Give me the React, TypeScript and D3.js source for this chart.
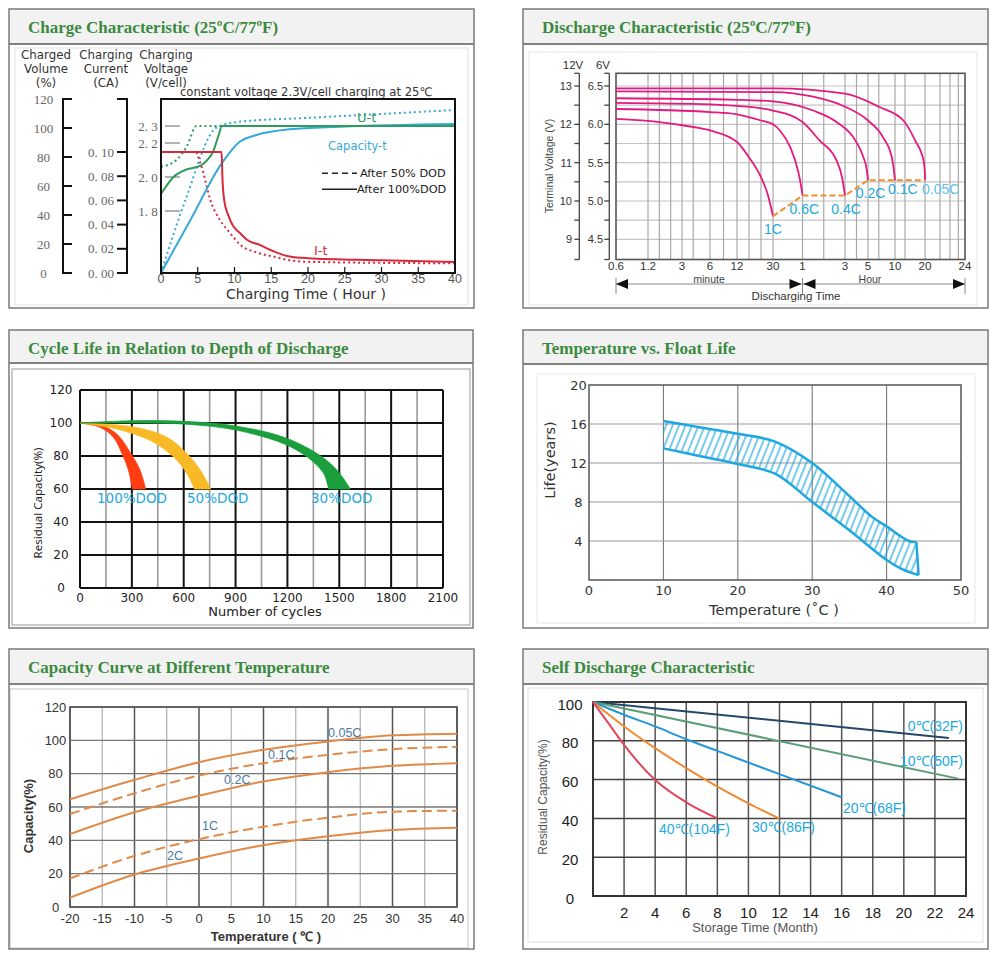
import * as d3 from "d3";

type Pt = [number, number];

// ---------- Charge characteristic ----------
const chargeHourTicks = [0, 5, 10, 15, 20, 25, 30, 35, 40];
const volumeTicks = [0, 20, 40, 60, 80, 100, 120];
const currentTicks = [0, 0.02, 0.04, 0.06, 0.08, 0.1];
const voltageTicks = [1.8, 2.0, 2.2, 2.3];
const capacityFull: Pt[] = [[0, 0], [4, 36.6], [8.26, 75.6], [10.7, 90.5], [13, 95.2], [17.5, 99.1], [24.4, 100.9], [40, 102.8]];
const capacityHalf: Pt[] = [[0, 0], [3.3, 50], [7.6, 100.5], [10.7, 104.3], [20, 107], [30, 109.7], [40, 112.4]];
const voltageFull: Pt[] = [[0, 1.9], [1.7, 2.0], [3.5, 2.045], [5.3, 2.065], [6.3, 2.1], [7.1, 2.15], [7.8, 2.24], [8.3, 2.3], [40, 2.3]];
const voltageHalf: Pt[] = [[0, 2.06], [2.1, 2.1], [3.5, 2.18], [4.85, 2.3], [8.3, 2.3]];
const currentFull: Pt[] = [[0, 0.1], [8.25, 0.1], [8.35, 0.08], [8.6, 0.06], [9.2, 0.047], [9.8, 0.039], [10.75, 0.033], [11.7, 0.0275], [13.5, 0.023], [15.3, 0.018], [17.5, 0.0136], [20, 0.0122], [30, 0.0105], [40, 0.009]];
const currentHalf: Pt[] = [[4.85, 0.1], [5.75, 0.083], [6.67, 0.061], [8, 0.044], [9.4, 0.033], [10.75, 0.0235], [13, 0.017], [15.3, 0.0136], [17.5, 0.0105], [20, 0.0092], [40, 0.008]];

// ---------- Discharge characteristic ----------
const dischargeTickMinutes = [0.6, 1.2, 3, 6, 12, 30, 60, 180, 300, 600, 1200, 1440];
const dischargeTickLabels = ["0.6", "1.2", "3", "6", "12", "30", "1", "3", "5", "10", "20", "24"];
const dischargeGridMinutes = [1.2, 1.8, 2.4, 3, 4.2, 6, 9, 12, 18, 24, 30, 60, 120, 180, 240, 300, 420, 600, 800, 1200, 1290, 1350, 1400];
const sixVoltTicks = [4.5, 5.0, 5.5, 6.0, 6.5];
const twelveVoltTicks = [9, 10, 11, 12, 13];
const rateLabels = ["1C", "0.6C", "0.4C", "0.2C", "0.1C", "0.05C"];
const rate1C: Pt[] = [[0.6, 6.07], [1.8, 6.03], [4.2, 5.965], [6, 5.92], [12, 5.77], [18, 5.57], [24, 5.31], [27.2, 5.1], [30, 4.8]];
const rate06C: Pt[] = [[0.6, 6.2], [6, 6.16], [12, 6.13], [24, 6.05], [30, 6.0], [37, 5.92], [47.6, 5.7], [55.7, 5.38], [58.5, 5.2], [60, 5.07]];
const rate04C: Pt[] = [[0.6, 6.28], [6, 6.26], [12, 6.24], [30, 6.18], [60, 6.03], [108, 5.79], [156, 5.53], [172, 5.3], [180, 5.07]];
const rate02C: Pt[] = [[0.6, 6.34], [12, 6.32], [30, 6.3], [90, 6.18], [156, 6.03], [234, 5.79], [276, 5.57], [294, 5.4], [300, 5.27]];
const rate01C: Pt[] = [[0.6, 6.43], [30, 6.42], [90, 6.36], [180, 6.23], [300, 6.05], [468, 5.83], [564, 5.57], [588, 5.4], [600, 5.27]];
const rate005C: Pt[] = [[0.6, 6.47], [30, 6.47], [180, 6.4], [420, 6.23], [768, 6.05], [1002, 5.79], [1170, 5.53], [1194, 5.4], [1200, 5.27]];
const endVoltage: Pt[] = [[30, 4.8], [60, 5.07], [180, 5.07], [300, 5.27], [1200, 5.27]];

// ---------- Cycle life ----------
const cycleTicks = [0, 300, 600, 900, 1200, 1500, 1800, 2100];
const cycleResidualTicks = [0, 20, 40, 60, 80, 100, 120];
const dodLabels = ["100%DOD", "50%DOD", "30%DOD"];
const dod100Outer: Pt[] = [[0, 100], [116, 98.6], [212, 93.4], [303, 80], [347, 71.5], [380, 60]];
const dod100Inner: Pt[] = [[0, 100], [116, 97.4], [193, 91.4], [251, 79.5], [280, 71.5], [303, 60]];
const dod50Outer: Pt[] = [[0, 100], [309, 97.6], [502, 91.4], [618, 81.5], [695, 71.5], [757, 60]];
const dod50Inner: Pt[] = [[0, 100], [212, 96.4], [405, 89.5], [541, 79.5], [618, 69.5], [662, 60]];
const dod30Outer: Pt[] = [[0, 100], [309, 101.4], [598, 101], [888, 98.4], [1178, 91.4], [1371, 81.5], [1486, 71.5], [1564, 60]];
const dod30Inner: Pt[] = [[0, 100], [309, 100], [598, 99.4], [888, 96], [1178, 87.5], [1313, 79.5], [1409, 69.5], [1438, 60]];

// ---------- Float life ----------
const floatTempTicks = [0, 10, 20, 30, 40, 50];
const floatLifeTicks = [4, 8, 12, 16, 20];
const floatUpper: Pt[] = [[10, 16.3], [15, 15.65], [20, 15.0], [25, 14.2], [30, 12.0], [35, 8.6], [38, 6.5], [40, 5.5], [43, 4.0], [44, 3.9]];
const floatLower: Pt[] = [[10, 13.5], [15, 12.7], [20, 11.9], [25, 10.9], [30, 8.0], [35, 5.1], [40, 2.05], [42, 1.15], [44.3, 0.5]];

// ---------- Capacity vs temperature ----------
const capTempTicks = [-20, -15, -10, -5, 0, 5, 10, 15, 20, 25, 30, 35, 40];
const capPctTicks = [0, 20, 40, 60, 80, 100, 120];
const capTemps = [-20, -10, 0, 10, 20, 30, 40];
const capRates = ["0.05C", "0.1C", "0.2C", "1C", "2C"];
const cap005C = [64.6, 76.3, 86.9, 94.3, 99.3, 103, 104];
const cap01C = [55.8, 68.2, 78.9, 86.3, 91.3, 94.7, 96.1];
const cap02C = [43.7, 56.8, 66.8, 75.3, 80.9, 84.7, 86.3];
const cap1C = [17.1, 30.7, 40.7, 48.2, 53.6, 57.2, 57.8];
const cap2C = [5.6, 19.5, 29.1, 37.1, 42.5, 46.2, 47.6];

// ---------- Self discharge ----------
const storageTicks = [2, 4, 6, 8, 10, 12, 14, 16, 18, 20, 22, 24];
const selfResidualTicks = [0, 20, 40, 60, 80, 100];
const selfLabels = ["0℃(32F)", "10℃(50F)", "20℃(68F)", "30℃(86F)", "40℃(104F)"];
const self0: Pt[] = [[0, 100], [22.9, 81.5]];
const self10: Pt[] = [[0, 100], [23.5, 60.5]];
const self20: Pt[] = [[0, 100], [2, 93.4], [4, 87.4], [6, 80.8], [8, 74.8], [12, 62.8], [16, 50.9]];
const self30: Pt[] = [[0, 100], [2, 87.4], [4, 76.2], [6, 65.9], [8, 56.4], [10, 47.8], [12, 39.9]];
const self40: Pt[] = [[0, 100], [1, 89], [2, 77.9], [4, 59.8], [6, 48.3], [8, 40]];

// ---------- layout ----------
const SERIF = "'Liberation Serif', 'Times New Roman', serif";
const SANS = "'Liberation Sans', Arial, sans-serif";
const DEJAVU = "'DejaVu Sans', Verdana, sans-serif";
const TITLE_GREEN = "#3b8a3f";
const CYAN = "#22a8e0";

const DIS_TICK_X = [616, 648, 682, 710, 737, 773, 802.5, 845, 868, 895, 925, 965];

type PanelProps = { x: number; y: number; w: number; h: number; head: number; title: string; inner: [number, number, number, number]; innerStroke: string };

function Panel({ x, y, w, h, head, title, inner, innerStroke }: PanelProps) {
	return (
		<g>
			<rect x={x} y={y} width={w} height={h} fill="#fff" />
			<rect x={x} y={y} width={w} height={head} fill="#f2f2f2" />
			<rect x={inner[0]} y={inner[1]} width={inner[2] - inner[0]} height={inner[3] - inner[1]} fill="#fff" stroke={innerStroke} strokeWidth={1.2} />
			<line x1={x} x2={x + w} y1={y + head} y2={y + head} stroke="#5a5a5a" strokeWidth={1.5} />
			<rect x={x} y={y} width={w} height={h} fill="none" stroke="#7a7a7a" strokeWidth={1.5} />
			<text x={x + 19} y={y + 24} fontFamily={SERIF} fontWeight="bold" fontSize={17} fill={TITLE_GREEN}>
				{title}
			</text>
		</g>
	);
}

function ChargeChart() {
	const x = d3.scaleLinear().domain([0, 40]).range([161, 455]);
	const yVol = d3.scaleLinear().domain([0, 120]).range([273, 99]);
	const yCur = d3.scaleLinear().domain([0, 0.1]).range([273, 152]);
	const yV = d3.scaleLinear().domain([1.8, 2.3]).range([211, 126]);
	const mk = (sy: d3.ScaleLinear<number, number>) =>
		d3.line<Pt>().x((d) => x(d[0])).y((d) => sy(d[1])).curve(d3.curveMonotoneX);
	const top = yVol(120);
	const bottom = yVol(0);
	const heads = [
		{ cx: 46, lines: ["Charged", "Volume", "(%)"] },
		{ cx: 106, lines: ["Charging", "Current", "(CA)"] },
		{ cx: 166, lines: ["Charging", "Voltage", "(V/cell)"] },
	];
	const headY = [58.5, 73, 86.5];
	const red = "#d9283c";
	const green = "#2f9c5c";
	const blue = "#35a9d9";

	return (
		<g>
			{heads.map((hd, i) => (
				<g key={i}>
					{hd.lines.map((t, j) => (
						<text key={j} x={hd.cx} y={headY[j]} textAnchor="middle" fontFamily={DEJAVU} fontSize={11.8} fill="#333">
							{t}
						</text>
					))}
				</g>
			))}
			{/* charged volume axis */}
			<line x1={63} x2={63} y1={top} y2={bottom} stroke="#111" strokeWidth={2} />
			{volumeTicks.map((v) => (
				<g key={v}>
					<line x1={62} x2={72} y1={yVol(v)} y2={yVol(v)} stroke="#111" strokeWidth={2} />
					<text x={43.5} y={yVol(v)} textAnchor="middle" dominantBaseline="central" fontFamily={SERIF} fontSize={13} fill="#666">
						{v}
					</text>
				</g>
			))}
			{/* current axis */}
			<line x1={127} x2={127} y1={top} y2={bottom} stroke="#111" strokeWidth={2} />
			<line x1={117} x2={128} y1={top} y2={top} stroke="#111" strokeWidth={2} />
			{currentTicks.map((v) => (
				<g key={v}>
					<line x1={117} x2={128} y1={yCur(v)} y2={yCur(v)} stroke="#111" strokeWidth={2} />
					<text x={101} y={yCur(v)} textAnchor="middle" dominantBaseline="central" fontFamily={SERIF} fontSize={13} fill="#666">
						{v.toFixed(2).replace(".", ". ")}
					</text>
				</g>
			))}
			{/* voltage ticks */}
			{voltageTicks.map((v) => (
				<g key={v}>
					<line x1={165} x2={180} y1={yV(v)} y2={yV(v)} stroke="#999" strokeWidth={1.5} />
					<text x={148} y={yV(v)} textAnchor="middle" dominantBaseline="central" fontFamily={SERIF} fontSize={13} fill="#666">
						{v.toFixed(1).replace(".", ". ")}
					</text>
				</g>
			))}
			<text x={180} y={96} fontFamily={DEJAVU} fontSize={11.6} fill="#333">
				constant voltage 2.3V/cell charging at 25℃
			</text>
			{/* curves */}
			<path d={mk(yVol)(capacityHalf)!} fill="none" stroke={blue} strokeWidth={2} strokeDasharray="2 3" />
			<path d={mk(yV)(voltageHalf)!} fill="none" stroke={green} strokeWidth={2} strokeDasharray="2 3" />
			<path d={mk(yCur)(currentHalf)!} fill="none" stroke={red} strokeWidth={2} strokeDasharray="2 3" />
			<path d={mk(yVol)(capacityFull)!} fill="none" stroke={blue} strokeWidth={2} />
			<path d={mk(yV)(voltageFull)!} fill="none" stroke={green} strokeWidth={2} />
			<path d={mk(yCur)(currentFull)!} fill="none" stroke={red} strokeWidth={2} />
			{/* frame */}
			<rect x={x(0)} y={top} width={x(40) - x(0)} height={bottom - top} fill="none" stroke="#111" strokeWidth={2} />
			{chargeHourTicks.map((h) => (
				<g key={h}>
					{h > 0 && h < 40 && <line x1={x(h)} x2={x(h)} y1={bottom} y2={bottom - 6} stroke="#111" strokeWidth={1.2} />}
					<text x={x(h)} y={278.5} textAnchor="middle" dominantBaseline="central" fontFamily={SANS} fontSize={12.5} fill="#555">
						{h}
					</text>
				</g>
			))}
			<text x={306} y={298.5} textAnchor="middle" fontFamily={DEJAVU} fontSize={14} fill="#333">
				Charging Time ( Hour  )
			</text>
			{/* labels & legend */}
			<text x={357} y={122} fontFamily={DEJAVU} fontSize={13} fill={green}>U-t</text>
			<text x={328} y={150} fontFamily={DEJAVU} fontSize={11.5} fill={blue}>Capacity-t</text>
			<text x={314} y={254.5} fontFamily={DEJAVU} fontSize={13} fill={red}>I-t</text>
			<line x1={322} x2={357} y1={173.3} y2={173.3} stroke="#222" strokeWidth={1.5} strokeDasharray="6 4" />
			<text x={360} y={177} fontFamily={DEJAVU} fontSize={11.3} fill="#222">After 50% DOD</text>
			<line x1={322} x2={357} y1={189.3} y2={189.3} stroke="#222" strokeWidth={1.5} />
			<text x={357} y={193} fontFamily={DEJAVU} fontSize={11.3} fill="#222">After 100%DOD</text>
		</g>
	);
}

function DischargeChart() {
	const x = d3.scaleLinear().domain(dischargeTickMinutes).range(DIS_TICK_X);
	const y = d3.scaleLinear().domain([4.5, 6.5]).range([239.3, 86]);
	const top = 73.3;
	const bottom = 259.5;
	const left = x(0.6);
	const right = x(1440);
	const line = d3.line<Pt>().x((d) => x(d[0])).y((d) => y(d[1])).curve(d3.curveMonotoneX);
	const hLines = d3.range(4.5, 6.51, 0.25);
	const curves = [rate1C, rate06C, rate04C, rate02C, rate01C, rate005C];
	const labelPos: [number, number, string][] = [[0, 13, "middle"], [-13, 13, "start"], [1, 13, "middle"], [2.5, 13, "middle"], [-7, 8.5, "start"], [-3, 8.5, "start"]];
	const arrowY = 284;
	const mid = x(60);

	return (
		<g>
			{hLines.map((v) => (
				<line key={v} x1={left} x2={right} y1={y(v)} y2={y(v)} stroke="#c4c4c4" strokeWidth={1.2} />
			))}
			{dischargeGridMinutes.map((m) => (
				<line key={m} x1={x(m)} x2={x(m)} y1={top} y2={bottom} stroke="#a8a8a8" strokeWidth={1.2} />
			))}
			<rect x={left} y={top} width={right - left} height={bottom - top} fill="none" stroke="#555" strokeWidth={1.6} />
			{curves.map((c, i) => (
				<path key={i} d={line(c)!} fill="none" stroke="#e5197f" strokeWidth={1.8} />
			))}
			<path d={d3.line<Pt>().x((d) => x(d[0])).y((d) => y(d[1]))(endVoltage)!} fill="none" stroke="#f0902a" strokeWidth={2} strokeDasharray="6 3" />
			{curves.map((c, i) => {
				const end = c[c.length - 1];
				const [dx, dy, anchor] = labelPos[i];
				return (
					<text key={i} x={x(end[0]) + dx} y={y(end[1]) + dy} textAnchor={anchor as any} dominantBaseline="central" fontFamily={SANS} fontSize={14} fill={i === 5 ? "#62c0ea" : CYAN}>
						{rateLabels[i]}
					</text>
				);
			})}
			{/* double voltage axis */}
			{[579.3, 609.3].map((ax) => (
				<g key={ax}>
					<line x1={ax} x2={ax} y1={top} y2={bottom} stroke="#444" strokeWidth={1.3} />
					<line x1={ax - 5} x2={ax} y1={top} y2={top} stroke="#444" strokeWidth={1.3} />
					<line x1={ax - 5} x2={ax} y1={bottom} y2={bottom} stroke="#444" strokeWidth={1.3} />
					{hLines.map((v) => (
						<line key={v} x1={ax - 5} x2={ax} y1={y(v)} y2={y(v)} stroke="#444" strokeWidth={1.3} />
					))}
				</g>
			))}
			{twelveVoltTicks.map((v) => (
				<text key={v} x={572} y={y(v / 2)} textAnchor="end" dominantBaseline="central" fontFamily={SANS} fontSize={11} fill="#333">
					{v}
				</text>
			))}
			{sixVoltTicks.map((v) => (
				<text key={v} x={603} y={y(v)} textAnchor="end" dominantBaseline="central" fontFamily={SANS} fontSize={11} fill="#333">
					{v.toFixed(1)}
				</text>
			))}
			<text x={573} y={69} textAnchor="middle" fontFamily={SANS} fontSize={11.5} fill="#333">12V</text>
			<text x={603} y={69} textAnchor="middle" fontFamily={SANS} fontSize={11.5} fill="#333">6V</text>
			<text transform="translate(553,166) rotate(-90)" textAnchor="middle" fontFamily={SANS} fontSize={10.5} fill="#444">
				Terminal Voltage (V)
			</text>
			{dischargeTickMinutes.map((m, i) => (
				<text key={m} x={x(m)} y={265.5} textAnchor="middle" dominantBaseline="central" fontFamily={SANS} fontSize={11.5} fill="#333">
					{dischargeTickLabels[i]}
				</text>
			))}
			<text x={709} y={282.5} textAnchor="middle" fontFamily={SANS} fontSize={10.5} fill="#444">minute</text>
			<text x={870} y={282.5} textAnchor="middle" fontFamily={SANS} fontSize={10.5} fill="#444">Hour</text>
			{/* arrows */}
			<line x1={left} x2={right} y1={arrowY} y2={arrowY} stroke="#888" strokeWidth={1} />
			{[left, mid, right].map((ax) => (
				<line key={ax} x1={ax} x2={ax} y1={278} y2={294} stroke="#888" strokeWidth={1} />
			))}
			<path d={`M${left},${arrowY}l12,-5v10z`} fill="#111" />
			<path d={`M${mid - 1},${arrowY}l-12,-5v10z`} fill="#111" />
			<path d={`M${mid + 1},${arrowY}l12,-5v10z`} fill="#111" />
			<path d={`M${right},${arrowY}l-12,-5v10z`} fill="#111" />
			<text x={796} y={299.5} textAnchor="middle" fontFamily={SANS} fontSize={11.5} fill="#333">Discharging Time</text>
		</g>
	);
}

function CycleChart() {
	const x = d3.scaleLinear().domain([0, 2100]).range([80, 443]);
	const y = d3.scaleLinear().domain([0, 120]).range([588, 390]);
	const line = d3.line<Pt>().x((d) => x(d[0])).y((d) => y(d[1])).curve(d3.curveCatmullRom.alpha(0.5));
	const band = (outer: Pt[], inner: Pt[]) => line(outer)! + "L" + line([...inner].reverse())!.slice(1) + "Z";
	const minor = d3.range(150, 2100, 300);
	const labelX = [97, 187, 311];
	const fills = ["#ff3d12", "#f7b925", "#1a9f3c"];
	const bands = [band(dod100Outer, dod100Inner), band(dod50Outer, dod50Inner), band(dod30Outer, dod30Inner)];

	return (
		<g>
			{minor.map((c) => (
				<line key={c} x1={x(c)} x2={x(c)} y1={y(120)} y2={y(0)} stroke="#9a9a9a" strokeWidth={1.6} />
			))}
			{cycleTicks.map((c) => (
				<line key={c} x1={x(c)} x2={x(c)} y1={y(120)} y2={y(0)} stroke="#111" strokeWidth={2} />
			))}
			{cycleResidualTicks.map((v) => (
				<line key={v} x1={x(0)} x2={x(2100)} y1={y(v)} y2={y(v)} stroke="#111" strokeWidth={2} />
			))}
			{bands.map((d, i) => (
				<path key={i} d={d} fill={fills[i]} stroke={fills[i]} strokeWidth={0.8} />
			))}
			{dodLabels.map((t, i) => (
				<text key={t} x={labelX[i]} y={503} fontFamily={DEJAVU} fontSize={13.5} fill={CYAN}>
					{t}
				</text>
			))}
			{cycleResidualTicks.map((v) => (
				<text key={v} x={61} y={y(v)} textAnchor="middle" dominantBaseline="central" fontFamily={DEJAVU} fontSize={12} fill="#222">
					{v}
				</text>
			))}
			{cycleTicks.map((c) => (
				<text key={c} x={x(c)} y={598} textAnchor="middle" dominantBaseline="central" fontFamily={DEJAVU} fontSize={12} fill="#222">
					{c}
				</text>
			))}
			<text x={265} y={616} textAnchor="middle" fontFamily={DEJAVU} fontSize={13} fill="#222">Number of cycles</text>
			<text transform="translate(41.5,503) rotate(-90)" textAnchor="middle" fontFamily="'Noto Sans', sans-serif" fontSize={11.5} fill="#222">
				Residual Capacity(%)
			</text>
		</g>
	);
}

function FloatChart() {
	const x = d3.scaleLinear().domain([0, 50]).range([589, 961]);
	const y = d3.scaleLinear().domain([0, 20]).range([580, 385]);
	const line = d3.line<Pt>().x((d) => x(d[0])).y((d) => y(d[1])).curve(d3.curveCatmullRom.alpha(0.5));
	const up = floatUpper[floatUpper.length - 1];
	const lo = floatLower[floatLower.length - 1];
	const area = line(floatUpper)! + `L${x(lo[0])},${y(lo[1])}` + line([...floatLower].reverse())!.slice(1).replace(/^[^C]*/, (s) => "L" + s) + "Z";
	const blue = "#1ea7e1";

	return (
		<g>
			{floatTempTicks.slice(1, -1).map((t) => (
				<line key={t} x1={x(t)} x2={x(t)} y1={y(20)} y2={y(0)} stroke="#777" strokeWidth={1.1} />
			))}
			{floatLifeTicks.slice(0, -1).map((v) => (
				<line key={v} x1={x(0)} x2={x(50)} y1={y(v)} y2={y(v)} stroke="#999" strokeWidth={1.1} />
			))}
			<rect x={x(0)} y={y(20)} width={x(50) - x(0)} height={y(0) - y(20)} fill="none" stroke="#555" strokeWidth={1.5} />
			<path d={area} fill="url(#hatch)" stroke="none" />
			<path d={line(floatUpper)!} fill="none" stroke={blue} strokeWidth={2.5} />
			<path d={line(floatLower)!} fill="none" stroke={blue} strokeWidth={2.5} />
			<line x1={x(up[0])} y1={y(up[1])} x2={x(lo[0])} y2={y(lo[1])} stroke={blue} strokeWidth={2.5} />
			{floatLifeTicks.map((v) => (
				<text key={v} x={578.5} y={y(v)} textAnchor="middle" dominantBaseline="central" fontFamily={DEJAVU} fontSize={13} fill="#333">
					{v}
				</text>
			))}
			{floatTempTicks.map((t) => (
				<text key={t} x={x(t)} y={590} textAnchor="middle" dominantBaseline="central" fontFamily={DEJAVU} fontSize={13} fill="#333">
					{t}
				</text>
			))}
			<text x={774} y={615} textAnchor="middle" fontFamily={DEJAVU} fontSize={14.5} fill="#333">Temperature (˚C )</text>
			<text transform="translate(555,460) rotate(-90)" textAnchor="middle" fontFamily={DEJAVU} fontSize={14.5} fill="#333">
				Life(years)
			</text>
		</g>
	);
}

function CapacityChart() {
	const x = d3.scaleLinear().domain([-20, 40]).range([70, 457]);
	const y = d3.scaleLinear().domain([0, 120]).range([907, 707]);
	const line = d3.line<number>().x((_, i) => x(capTemps[i])).y((d) => y(d)).curve(d3.curveMonotoneX);
	const series = [cap005C, cap01C, cap02C, cap1C, cap2C];
	const dashed = [false, true, false, true, false];
	const labelXY: Pt[] = [[328, 733], [268, 755], [224, 780], [202, 826], [167, 856]];

	return (
		<g>
			{capTempTicks.map((t) => (
				<line key={t} x1={x(t)} x2={x(t)} y1={y(120)} y2={y(0)} stroke={t % 10 === 0 ? "#555" : "#b0b0b0"} strokeWidth={t % 10 === 0 ? 1.5 : 1.2} />
			))}
			{capPctTicks.map((v) => (
				<line key={v} x1={x(-20)} x2={x(40)} y1={y(v)} y2={y(v)} stroke="#777" strokeWidth={1.3} />
			))}
			<rect x={x(-20)} y={y(120)} width={x(40) - x(-20)} height={y(0) - y(120)} fill="none" stroke="#555" strokeWidth={1.6} />
			{series.map((s, i) => (
				<path key={i} d={line(s)!} fill="none" stroke="#e08a4a" strokeWidth={2} strokeDasharray={dashed[i] ? "10 5" : undefined} />
			))}
			{capRates.map((t, i) => (
				<text key={t} x={labelXY[i][0]} y={labelXY[i][1]} dominantBaseline="central" fontFamily={SANS} fontSize={12.5} fill="#4a78a8">
					{t}
				</text>
			))}
			{capPctTicks.map((v) => (
				<text key={v} x={55.5} y={y(v)} textAnchor="middle" dominantBaseline="central" fontFamily={SANS} fontSize={13} fill="#333">
					{v}
				</text>
			))}
			{capTempTicks.map((t) => (
				<text key={t} x={x(t)} y={918} textAnchor="middle" dominantBaseline="central" fontFamily={SANS} fontSize={13} fill="#333">
					{t}
				</text>
			))}
			<text x={266} y={941} textAnchor="middle" fontFamily={SANS} fontWeight="bold" fontSize={13} fill="#333">Temperature ( ℃ )</text>
			<text transform="translate(33,816) rotate(-90)" textAnchor="middle" fontFamily={SANS} fontWeight="bold" fontSize={13} fill="#333">
				Capacity(%)
			</text>
		</g>
	);
}

function SelfDischargeChart() {
	const x = d3.scaleLinear().domain([0, 24]).range([593, 966]);
	const y = d3.scaleLinear().domain([0, 100]).range([896, 702]);
	const line = d3.line<Pt>().x((d) => x(d[0])).y((d) => y(d[1])).curve(d3.curveMonotoneX);
	const series = [self0, self10, self20, self30, self40];
	const colors = ["#24476b", "#5c9e78", "#2596d5", "#f08a30", "#e2455a"];
	const labelXY: [number, number, string][] = [[963, 726, "end"], [963, 761, "end"], [843, 808, "start"], [752, 827, "start"], [659, 828.5, "start"]];

	return (
		<g>
			{storageTicks.slice(0, -1).map((t) => (
				<line key={t} x1={x(t)} x2={x(t)} y1={y(100)} y2={y(0)} stroke="#555" strokeWidth={1.5} />
			))}
			{selfResidualTicks.slice(1, -1).map((v) => (
				<line key={v} x1={x(0)} x2={x(24)} y1={y(v)} y2={y(v)} stroke="#444" strokeWidth={1.5} />
			))}
			<rect x={x(0)} y={y(100)} width={x(24) - x(0)} height={y(0) - y(100)} fill="none" stroke="#333" strokeWidth={2} />
			{series.map((s, i) => (
				<path key={i} d={line(s)!} fill="none" stroke={colors[i]} strokeWidth={2} />
			))}
			{selfLabels.map((t, i) => (
				<text key={t} x={labelXY[i][0]} y={labelXY[i][1]} textAnchor={labelXY[i][2] as any} dominantBaseline="central" fontFamily={SANS} fontSize={14} fill={CYAN}>
					{t}
				</text>
			))}
			{selfResidualTicks.map((v) => (
				<text key={v} x={570} y={y(v) + 2} textAnchor="middle" dominantBaseline="central" fontFamily={SANS} fontSize={15} fill="#222">
					{v}
				</text>
			))}
			{storageTicks.map((t) => (
				<text key={t} x={x(t)} y={912} textAnchor="middle" dominantBaseline="central" fontFamily={SANS} fontSize={15} fill="#222">
					{t}
				</text>
			))}
			<text x={755} y={932} textAnchor="middle" fontFamily={SANS} fontSize={13} fill="#555">Storage Time (Month)</text>
			<text transform="translate(547,797) rotate(-90)" textAnchor="middle" fontFamily={SANS} fontSize={12} fill="#555">
				Residual Capacity(%)
			</text>
		</g>
	);
}

export default function App() {
	return (
		<svg width={1000} height={960} style={{ position: "absolute", left: 0, top: 0, background: "#fff" }}>
			<defs>
				<pattern id="hatch" patternUnits="userSpaceOnUse" width={6} height={10} patternTransform="rotate(22)">
					<line x1={3} y1={-1} x2={3} y2={11} stroke="#1ea7e1" strokeWidth={1.2} />
				</pattern>
			</defs>
			<Panel x={9} y={9} w={465} h={299} head={35} title="Charge Characteristic (25ºC/77ºF)" inner={[15, 48, 468, 305]} innerStroke="#e4e4e4" />
			<Panel x={523} y={9} w={465} h={299} head={35} title="Discharge Characteristic (25ºC/77ºF)" inner={[529, 52, 977, 305]} innerStroke="#e8e8e8" />
			<Panel x={9} y={330} w={464} h={298} head={33} title="Cycle Life in Relation to Depth of Discharge" inner={[12, 369, 470, 625]} innerStroke="#a8a8a8" />
			<Panel x={523} y={330} w={465} h={298} head={34} title="Temperature vs. Float Life" inner={[537, 374, 975, 623]} innerStroke="#ececec" />
			<Panel x={9} y={649} w={465} h={300} head={35} title="Capacity Curve at Different Temperature" inner={[10, 689, 468, 948]} innerStroke="#cfcfcf" />
			<Panel x={523} y={649} w={465} h={300} head={35} title="Self Discharge Characteristic" inner={[528, 688, 983, 942]} innerStroke="#e4e4e4" />
			<ChargeChart />
			<DischargeChart />
			<CycleChart />
			<FloatChart />
			<CapacityChart />
			<SelfDischargeChart />
		</svg>
	);
}
